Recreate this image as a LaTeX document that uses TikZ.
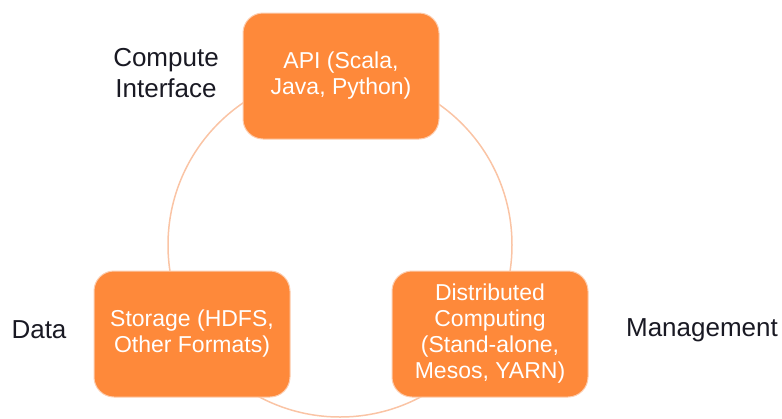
\documentclass[tikz,border=0pt]{standalone}
\usepackage{fontspec}
\setmainfont{Liberation Sans}
\definecolor{boxorange}{RGB}{254,137,58}
\definecolor{boxedge}{RGB}{252,205,175}
\definecolor{ringcol}{RGB}{250,196,165}
\definecolor{labeltext}{RGB}{25,25,35}
\begin{document}
\begin{tikzpicture}[x=1pt,y=-1pt,
  stagebox/.style={draw=boxedge, line width=1pt, fill=boxorange, rounded corners=20pt,
    minimum width=196pt, minimum height=126pt, inner sep=0pt, align=center,
    text=white, font=\fontsize{23}{26}\selectfont},
  sidelabel/.style={align=center, text=labeltext, font=\fontsize{26}{31}\selectfont, inner sep=0pt}]
\useasboundingbox (0,0) rectangle (782,418);
\draw[ringcol, line width=1.5pt] (340,245) circle (172);
\node[stagebox] (api) at (341,76) {API (Scala,\\Java, Python)};
\node[stagebox] (storage) at (192,334) {Storage (HDFS,\\Other Formats)};
\node[stagebox] (dist) at (490,334) {Distributed\\Computing\\(Stand-alone,\\Mesos, YARN)};
\node[sidelabel] (compute) at (166,73) {Compute\\Interface};
\node[sidelabel] (data) at (39,330) {Data};
\node[sidelabel] (mgmt) at (702,330) {Management};
\end{tikzpicture}
\end{document}
